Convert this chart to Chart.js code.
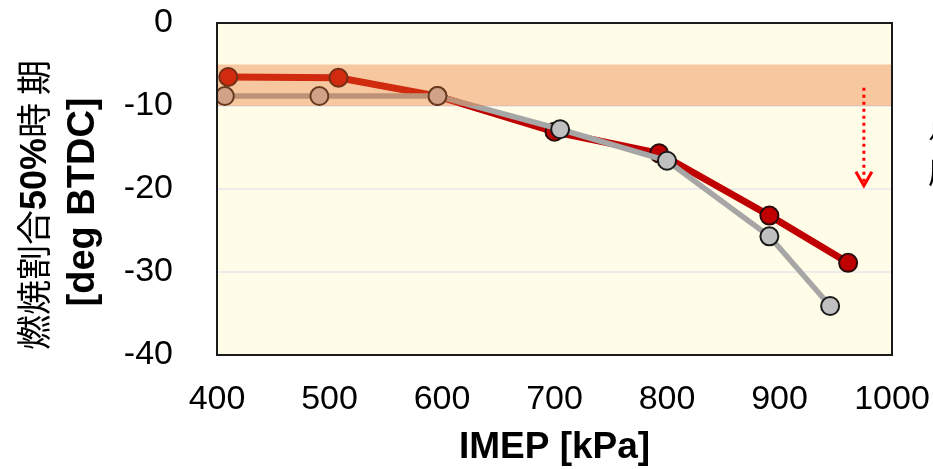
<!DOCTYPE html>
<html>
<head>
<meta charset="utf-8">
<script src="https://cdn.jsdelivr.net/npm/chart.js@4/dist/chart.umd.min.js"></script>
<style>
  html, body { margin: 0; padding: 0; background: #ffffff; }
  #wrap { width: 933px; height: 469px; position: relative; }
</style>
</head>
<body>
<div id="wrap"><canvas id="c" width="933" height="469"></canvas></div>
<script>
// ---- data ----
const xTickValues = [400, 500, 600, 700, 800, 900, 1000];
const yTickValues = [0, -10, -20, -30, -40];

const redX = [410, 508, 596, 700, 793, 891, 961];
const redY = [-6.5, -6.6, -8.8, -13.1, -15.7, -23.2, -28.9];

const grayX = [407, 491, 596, 705, 800, 891, 945];
const grayY = [-8.8, -8.8, -8.8, -12.8, -16.6, -25.7, -34.1];

const bandRange = [-5, -10];          // shaded target band (y values)
const arrowX = 975;                    // dotted arrow (data coords)
const arrowFrom = -7.8;
const arrowTo = -19.6;

const yTitleLine1 = [["燃焼割合", false], ["50%", true], ["時 期", false]];
const yTitleLine2 = "[deg BTDC]";
const xTitle = "IMEP [kPa]";
const sideTextLines = ["点火時期", "圧縮比"];

const toPts = (xs, ys) => xs.map((x, i) => ({ x: x, y: ys[i] }));

const FONT = "'Liberation Sans', Arial, sans-serif";
const CJK = "'Noto Sans CJK JP', 'Noto Sans CJK SC', sans-serif";

const zeroPad = (scale) => {
  scale.paddingTop = 0; scale.paddingBottom = 0;
  scale.paddingLeft = 0; scale.paddingRight = 0;
};

const decorPlugin = {
  id: 'decor',
  beforeDraw(chart) {
    const { ctx, chartArea: a } = chart;
    ctx.save();
    ctx.fillStyle = '#FFFDE8';
    ctx.fillRect(a.left, a.top, a.right - a.left, a.bottom - a.top);
    ctx.restore();
  },
  afterDatasetsDraw(chart) {
    const { ctx, chartArea: a, scales } = chart;
    const y1 = scales.y.getPixelForValue(bandRange[0]);
    const y2 = scales.y.getPixelForValue(bandRange[1]);
    ctx.save();
    ctx.fillStyle = 'rgba(233,112,40,0.375)';
    ctx.fillRect(a.left, y1, a.right - a.left, y2 - y1);
    ctx.restore();
  },
  afterDraw(chart) {
    const { ctx, chartArea: a, scales } = chart;
    // frame
    ctx.save();
    ctx.strokeStyle = '#1a1a1a';
    ctx.lineWidth = 2;
    ctx.strokeRect(a.left, a.top, a.right - a.left, a.bottom - a.top);
    ctx.restore();

    // dotted arrow
    const ax = scales.x.getPixelForValue(arrowX);
    const ay1 = scales.y.getPixelForValue(arrowFrom);
    const ay2 = scales.y.getPixelForValue(arrowTo);
    ctx.save();
    ctx.strokeStyle = '#ff0000';
    ctx.lineWidth = 3;
    ctx.setLineDash([3, 4]);
    ctx.beginPath();
    ctx.moveTo(ax, ay1);
    ctx.lineTo(ax, ay2 - 2);
    ctx.stroke();
    ctx.setLineDash([]);
    ctx.beginPath();
    ctx.moveTo(ax - 8, ay2 - 14);
    ctx.lineTo(ax, ay2);
    ctx.lineTo(ax + 8, ay2 - 14);
    ctx.stroke();
    ctx.restore();

    // y axis title (rotated, mixed weight)
    ctx.save();
    ctx.fillStyle = '#000';
    ctx.translate(34, 205);
    ctx.rotate(-Math.PI / 2);
    ctx.textBaseline = 'middle';
    const fontFor = (bold) => bold ? "bold 36px " + FONT : "35px " + CJK;
    let total = 0;
    yTitleLine1.forEach(([t, b]) => { ctx.font = fontFor(b); total += ctx.measureText(t).width; });
    let x = -total / 2;
    yTitleLine1.forEach(([t, b]) => {
      ctx.font = fontFor(b);
      ctx.textAlign = 'left';
      ctx.fillText(t, x, b ? 2 : 0);
      x += ctx.measureText(t).width;
    });
    ctx.restore();

    ctx.save();
    ctx.fillStyle = '#000';
    ctx.translate(82, 202);
    ctx.rotate(-Math.PI / 2);
    ctx.textBaseline = 'middle';
    ctx.textAlign = 'center';
    ctx.font = "bold 38px " + FONT;
    ctx.fillText(yTitleLine2, 0, 2);
    ctx.restore();

    // x axis title
    ctx.save();
    ctx.fillStyle = '#000';
    ctx.font = "bold 37px " + FONT;
    ctx.textAlign = 'center';
    ctx.textBaseline = 'middle';
    ctx.fillText(xTitle, (a.left + a.right) / 2, 448);
    ctx.restore();

    // clipped side text at right edge
    ctx.save();
    ctx.fillStyle = '#000';
    ctx.font = "30px " + CJK;
    ctx.textAlign = 'left';
    ctx.textBaseline = 'middle';
    ctx.fillText(sideTextLines[0], 928, 126);
    ctx.fillText(sideTextLines[1], 928, 172);
    ctx.restore();
  }
};

new Chart(document.getElementById('c'), {
  type: 'line',
  data: {
    datasets: [
      {
        label: 'gray',
        data: toPts(grayX, grayY),
        borderColor: '#A6A6A6',
        borderWidth: 5.5,
        pointRadius: 9,
        pointBackgroundColor: '#C0C0C0',
        pointBorderColor: '#1a1a1a',
        pointBorderWidth: 2,
        tension: 0
      },
      {
        label: 'red',
        data: toPts(redX, redY),
        borderColor: '#C00000',
        borderWidth: 7,
        pointRadius: 9,
        pointBackgroundColor: '#C00000',
        pointBorderColor: '#2a0a0a',
        pointBorderWidth: 2,
        tension: 0
      }
    ]
  },
  options: {
    responsive: false,
    animation: false,
    devicePixelRatio: 1,
    layout: { autoPadding: false, padding: { left: 0, top: 23, right: 41, bottom: 0 } },
    plugins: { legend: { display: false }, tooltip: { enabled: false } },
    scales: {
      x: {
        type: 'linear',
        min: xTickValues[0],
        max: xTickValues[xTickValues.length - 1],
        afterBuildTicks(scale) { scale.ticks = xTickValues.map(v => ({ value: v })); },
        afterFit(scale) { scale.height = 114; zeroPad(scale); },
        grid: { display: false, drawTicks: false },
        border: { display: false },
        ticks: { color: '#000', padding: 24, font: { family: FONT, size: 34 }, maxRotation: 0, autoSkip: false,
                 callback: (v) => String(v) }
      },
      y: {
        type: 'linear',
        min: yTickValues[yTickValues.length - 1],
        max: yTickValues[0],
        afterBuildTicks(scale) { scale.ticks = yTickValues.map(v => ({ value: v })); },
        afterFit(scale) { scale.width = 217; zeroPad(scale); },
        grid: { color: '#ECECEC', lineWidth: 2, drawTicks: false },
        border: { display: false },
        ticks: { color: '#000', padding: 44, font: { family: FONT, size: 34 }, autoSkip: false,
                 callback: (v) => String(v) }
      }
    }
  },
  plugins: [decorPlugin]
});
</script>
</body>
</html>
